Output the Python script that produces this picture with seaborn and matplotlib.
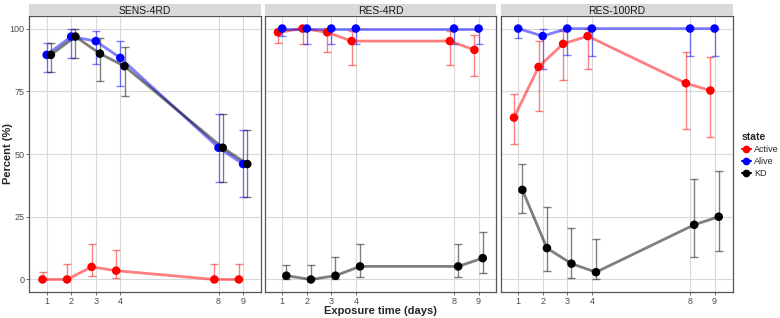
import numpy as np
import pandas as pd
import matplotlib
matplotlib.use("Agg")
import matplotlib.pyplot as plt
from matplotlib.lines import Line2D
import seaborn as sns

# ---------------- data ----------------
days = [1, 2, 3, 4, 8, 9]
states = ["Active", "Alive", "KD"]
panels = ["SENS-4RD", "RES-4RD", "RES-100RD"]
y_ticks = [0, 25, 50, 75, 100]

sens_active = [0, 0, 5, 3.5, 0, 0]
sens_active_lo = [0, 0, 1.2, 0.4, 0, 0]
sens_active_hi = [3, 6, 14.2, 11.7, 6, 6]
sens_alive = [89.5, 96.8, 95, 88.3, 52.5, 46]
sens_alive_lo = [82.7, 88.3, 86, 77.2, 39, 33]
sens_alive_hi = [94.3, 99.7, 99, 95.2, 66, 59.5]
sens_kd = [89.5, 96.8, 90, 85, 52.5, 46]
sens_kd_lo = [82.7, 88.3, 79, 73.2, 39, 33]
sens_kd_hi = [94.3, 99.7, 96.3, 92.8, 66, 59.5]

res4_active = [98.5, 100, 98.5, 95, 95, 91.5]
res4_active_lo = [94.1, 94, 90.8, 85.6, 85.6, 81]
res4_active_hi = [100, 100, 99, 99, 99, 97.3]
res4_alive = [100, 100, 100, 100, 100, 100]
res4_alive_lo = [97, 94, 94, 94, 94, 94]
res4_alive_hi = [100, 100, 100, 100, 100, 100]
res4_kd = [1.5, 0, 1.5, 5.2, 5.2, 8.5]
res4_kd_lo = [0, 0, 0, 0.9, 0.9, 2.7]
res4_kd_hi = [5.8, 5.8, 9.1, 14.2, 14.2, 19]

res100_active = [64.5, 84.7, 93.9, 97, 78.2, 75.3]
res100_active_lo = [54, 67.3, 79.5, 83.9, 60, 56.6]
res100_active_hi = [73.9, 95, 99, 100, 90.8, 88.7]
res100_alive = [100, 97, 100, 100, 100, 100]
res100_alive_lo = [96.3, 83.9, 89.5, 89.2, 89.2, 89.2]
res100_alive_hi = [100, 100, 100, 100, 100, 100]
res100_kd = [35.7, 12.5, 6.3, 2.9, 21.8, 25]
res100_kd_lo = [26.3, 3.3, 0.5, 0, 8.9, 11.5]
res100_kd_hi = [46, 28.8, 20.7, 16.1, 40, 43.4]

series = {
    "SENS-4RD": {"Active": (sens_active, sens_active_lo, sens_active_hi),
                 "Alive": (sens_alive, sens_alive_lo, sens_alive_hi),
                 "KD": (sens_kd, sens_kd_lo, sens_kd_hi)},
    "RES-4RD": {"Active": (res4_active, res4_active_lo, res4_active_hi),
                "Alive": (res4_alive, res4_alive_lo, res4_alive_hi),
                "KD": (res4_kd, res4_kd_lo, res4_kd_hi)},
    "RES-100RD": {"Active": (res100_active, res100_active_lo, res100_active_hi),
                  "Alive": (res100_alive, res100_alive_lo, res100_alive_hi),
                  "KD": (res100_kd, res100_kd_lo, res100_kd_hi)},
}

rows = []
for p in panels:
    for s in states:
        m, lo, hi = series[p][s]
        for d, mv, lv, hv in zip(days, m, lo, hi):
            rows.append(dict(panel=p, state=s, day=d, mean=mv, lo=lv, hi=hv))
df = pd.DataFrame(rows)

dodge = {"Active": -0.17, "Alive": 0.0, "KD": 0.17}
df["xd"] = df["day"] + df["state"].map(dodge)
palette = {"Active": "#FF0000", "Alive": "#0000FF", "KD": "#000000"}

# ---------------- figure ----------------
sns.set_theme(style="white")
plt.rcParams["font.family"] = ["Liberation Sans", "DejaVu Sans"]

W, H = 780, 318
fig = plt.figure(figsize=(W / 100, H / 100), dpi=100)

panel_left = [29, 264.5, 500.5]
panel_w = 232
panel_top, panel_bot = 16, 292
strip_top = 4

def fx(px):
    return px / W

def fy(py):
    return 1 - py / H

for i, p in enumerate(panels):
    ax = fig.add_axes([fx(panel_left[i]), fy(panel_bot),
                       fx(panel_w), (panel_bot - panel_top) / H])
    ax.set_facecolor("white")
    sub = df[df.panel == p]
    for s in states:
        d = sub[sub.state == s]
        ax.errorbar(d["xd"], d["mean"],
                    yerr=[d["mean"] - d["lo"], d["hi"] - d["mean"]],
                    fmt="none", ecolor=palette[s], alpha=0.5,
                    elinewidth=1.0, capsize=2.7, capthick=1.0, zorder=2)
    sns.lineplot(data=sub, x="xd", y="mean", hue="state", palette=palette,
                 hue_order=states, alpha=0.5, lw=2.0, legend=False,
                 ax=ax, zorder=3, estimator=None)
    sns.scatterplot(data=sub, x="xd", y="mean", hue="state", palette=palette,
                    hue_order=states, s=38, linewidth=0, legend=False,
                    ax=ax, zorder=4)
    ax.set_xlim(0.28, 9.73)
    ax.set_ylim(-5, 105)
    ax.set_xticks(days)
    ax.set_yticks(y_ticks)
    ax.grid(True, color="#D9D9D9", lw=0.8)
    ax.set_axisbelow(True)
    for sp in ax.spines.values():
        sp.set_color("#555555")
        sp.set_linewidth(0.9)
    ax.tick_params(axis="both", length=2.2, width=0.6, color="#555555",
                   labelsize=6.5, labelcolor="#4D4D4D", pad=1.2,
                   bottom=True, left=True)
    if i > 0:
        ax.set_yticklabels([])
        ax.tick_params(axis="y", left=False)
    ax.set_xlabel("")
    ax.set_ylabel("")
    # strip
    sax = fig.add_axes([fx(panel_left[i]), fy(panel_top),
                        fx(panel_w), (panel_top - strip_top) / H])
    sax.set_facecolor("#D9D9D9")
    sax.set_xticks([])
    sax.set_yticks([])
    for sp in sax.spines.values():
        sp.set_visible(False)
    sax.text(0.5, 0.45, p, ha="center", va="center", fontsize=7.5,
             color="#1A1A1A", transform=sax.transAxes)

fig.text(fx(380), fy(310.5), "Exposure time (days)", ha="center", va="center",
         fontsize=8, fontweight="bold")
fig.text(fx(8), fy(154), "Percent (%)", ha="center", va="center",
         fontsize=8, fontweight="bold", rotation=90)

handles = [Line2D([0], [0], color=palette[s], marker="o", markersize=4.5,
                  lw=1.5, label=s) for s in states]
leg = fig.legend(handles=handles, title="state", loc="upper left",
                 bbox_to_anchor=(fx(741), fy(131)), frameon=False,
                 fontsize=6.5, title_fontsize=7.5, handlelength=1.0,
                 handletextpad=0.35, labelspacing=0.35, borderpad=0.1,
                 borderaxespad=0.0)
leg.get_title().set_fontweight("bold")
leg._legend_box.align = "left"

fig.savefig("out.png", dpi=100)
